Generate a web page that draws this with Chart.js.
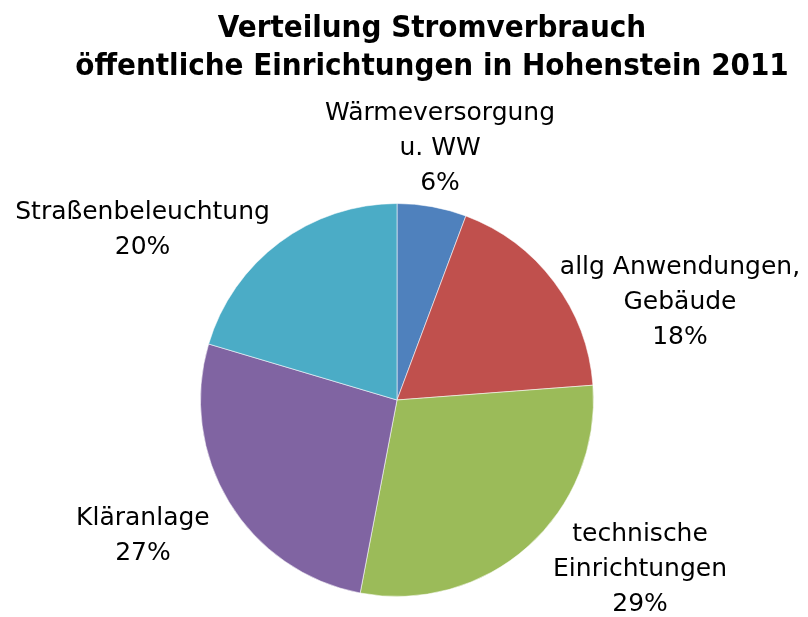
<!DOCTYPE html>
<html>
<head>
<meta charset="utf-8">
<script src="https://cdn.jsdelivr.net/npm/chart.js@4/dist/chart.umd.min.js"></script>
<style>
  html, body { margin: 0; padding: 0; background: #fff; }
  #wrap { width: 808px; height: 617px; }
</style>
</head>
<body>
<div id="wrap"><canvas id="myChart" width="808" height="617"></canvas></div>
<script>
// data (clockwise from 12 o'clock)
const categories = [
  ["Wärmeversorgung", "u. WW"],
  ["allg Anwendungen,", "Gebäude"],
  ["technische", "Einrichtungen"],
  ["Kläranlage"],
  ["Straßenbeleuchtung"]
];
const shares = [5.7, 18.1, 29.2, 26.6, 20.4];
const colors = ["#4F81BD", "#C0504D", "#9BBB59", "#8064A2", "#4BACC6"];
const titleLines = ["Verteilung Stromverbrauch", "öffentliche Einrichtungen in Hohenstein 2011"];

// label block centres, in units of the pie radius from the pie centre
const labelOffsets = [[0.219, -1.293], [1.440, -0.509], [1.237, 0.850], [-1.293, 0.679], [-1.295, -0.880]];

const total = shares.reduce((a, b) => a + b, 0);

const textPlugin = {
  id: "textPlugin",
  afterDatasetsDraw(chart) {
    const ctx = chart.ctx;
    const meta = chart.getDatasetMeta(0);
    ctx.save();
    ctx.fillStyle = "#000";
    ctx.textAlign = "center";
    ctx.textBaseline = "alphabetic";

    // title
    ctx.font = "bold 31px 'DejaVu Sans Condensed', 'DejaVu Sans', sans-serif";
    titleLines.forEach((t, i) => ctx.fillText(t, 432, 37 + i * 38));

    // slice labels
    ctx.font = "25px 'DejaVu Sans', sans-serif";
    const lh = 35;
    meta.data.forEach((arc, i) => {
      const r = arc.outerRadius;
      const cx = arc.x + labelOffsets[i][0] * r;
      const cy = arc.y + labelOffsets[i][1] * r;
      const lines = categories[i].concat([Math.round(shares[i] / total * 100) + "%"]);
      const y0 = cy - (lines.length - 1) * lh / 2 + 9;
      lines.forEach((l, j) => ctx.fillText(l, cx, y0 + j * lh));
    });
    ctx.restore();
  }
};

const ctx = document.getElementById("myChart").getContext("2d");
const myChart = new Chart(ctx, {
  type: "pie",
  data: {
    labels: categories.map(c => c.join(" ")),
    datasets: [{
      data: shares,
      backgroundColor: colors,
      borderColor: "rgba(255,255,255,0.55)",
      borderWidth: 1,
      hoverOffset: 0
    }]
  },
  options: {
    responsive: false,
    animation: false,
    layout: { padding: { top: 203, bottom: 20, left: 200, right: 214 } },
    plugins: {
      legend: { display: false },
      tooltip: { enabled: false },
      title: { display: false }
    }
  },
  plugins: [textPlugin]
});
</script>
</body>
</html>
